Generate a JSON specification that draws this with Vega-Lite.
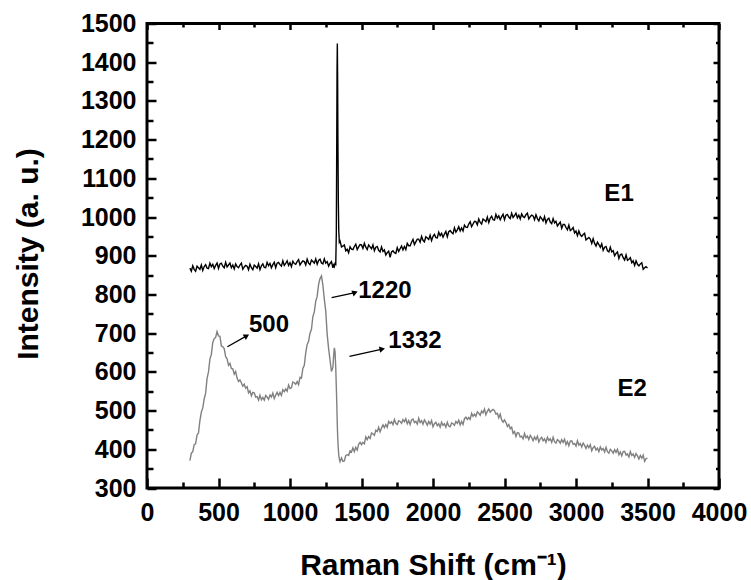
{
"$schema": "https://vega.github.io/schema/vega-lite/v6.json",
"width": 751, "height": 580,
"autosize": {"type": "fit", "contains": "padding"},
"padding": {"left": 13, "top": 11.5, "right": 4, "bottom": 0},
"background": "white",
"config": {
 "view": {"stroke": "black", "strokeWidth": 3},
 "font": "Liberation Sans",
 "axis": {"labelFont": "Liberation Sans", "labelFontWeight": "bold", "labelFontSize": 25, "labelColor": "black",
  "titleFont": "Liberation Sans", "titleFontWeight": "bold", "titleFontSize": 30, "titleColor": "black",
  "domain": false, "grid": false, "tickColor": "black", "tickWidth": 2.5, "tickOpacity": 1}
},
"datasets": {
 "spec": [
  {"x":300,"E1":868,"E2":371},{"x":310,"E1":860,"E2":390},{"x":320,"E1":874,"E2":394},{"x":330,"E1":865,"E2":412},{"x":340,"E1":860,"E2":414},
  {"x":350,"E1":873,"E2":437},{"x":360,"E1":869,"E2":442},{"x":370,"E1":865,"E2":474},{"x":380,"E1":876,"E2":496},{"x":390,"E1":862,"E2":507},
  {"x":400,"E1":872,"E2":530},{"x":410,"E1":877,"E2":545},{"x":420,"E1":868,"E2":583},{"x":430,"E1":867,"E2":600},{"x":440,"E1":881,"E2":633},
  {"x":450,"E1":872,"E2":645},{"x":460,"E1":878,"E2":676},{"x":470,"E1":867,"E2":686},{"x":480,"E1":875,"E2":689},{"x":490,"E1":881,"E2":704},
  {"x":500,"E1":867,"E2":693},{"x":510,"E1":879,"E2":692},{"x":520,"E1":881,"E2":667},{"x":530,"E1":873,"E2":665},{"x":540,"E1":869,"E2":660},
  {"x":550,"E1":883,"E2":639},{"x":560,"E1":871,"E2":634},{"x":570,"E1":876,"E2":617},{"x":580,"E1":881,"E2":622},{"x":590,"E1":869,"E2":609},
  {"x":600,"E1":876,"E2":608},{"x":610,"E1":866,"E2":594},{"x":620,"E1":879,"E2":601},{"x":630,"E1":872,"E2":584},{"x":640,"E1":869,"E2":575},
  {"x":650,"E1":876,"E2":579},{"x":660,"E1":881,"E2":572},{"x":670,"E1":865,"E2":563},{"x":680,"E1":871,"E2":568},{"x":690,"E1":875,"E2":558},
  {"x":700,"E1":873,"E2":562},{"x":710,"E1":864,"E2":546},{"x":720,"E1":878,"E2":551},{"x":730,"E1":869,"E2":538},{"x":740,"E1":864,"E2":547},
  {"x":750,"E1":876,"E2":546},{"x":760,"E1":872,"E2":535},{"x":770,"E1":868,"E2":536},{"x":780,"E1":879,"E2":527},{"x":790,"E1":864,"E2":540},
  {"x":800,"E1":874,"E2":528},{"x":810,"E1":879,"E2":534},{"x":820,"E1":870,"E2":527},{"x":830,"E1":869,"E2":539},{"x":840,"E1":883,"E2":535},
  {"x":850,"E1":874,"E2":529},{"x":860,"E1":880,"E2":540},{"x":870,"E1":869,"E2":535},{"x":880,"E1":877,"E2":545},{"x":890,"E1":883,"E2":531},
  {"x":900,"E1":869,"E2":540},{"x":910,"E1":881,"E2":547},{"x":920,"E1":883,"E2":539},{"x":930,"E1":877,"E2":547},{"x":940,"E1":873,"E2":539},
  {"x":950,"E1":887,"E2":554},{"x":960,"E1":875,"E2":549},{"x":970,"E1":880,"E2":556},{"x":980,"E1":887,"E2":550},{"x":990,"E1":875,"E2":566},
  {"x":1000,"E1":882,"E2":557},{"x":1010,"E1":872,"E2":559},{"x":1020,"E1":886,"E2":574},{"x":1030,"E1":880,"E2":572},{"x":1040,"E1":878,"E2":568},
  {"x":1050,"E1":885,"E2":575},{"x":1060,"E1":890,"E2":567},{"x":1070,"E1":876,"E2":586},{"x":1080,"E1":882,"E2":584},{"x":1090,"E1":887,"E2":609},
  {"x":1100,"E1":885,"E2":617},{"x":1110,"E1":876,"E2":649},{"x":1120,"E1":891,"E2":671},{"x":1130,"E1":881,"E2":679},{"x":1140,"E1":877,"E2":700},
  {"x":1150,"E1":889,"E2":710},{"x":1160,"E1":885,"E2":743},{"x":1170,"E1":881,"E2":755},{"x":1180,"E1":892,"E2":783},{"x":1190,"E1":878,"E2":795},
  {"x":1200,"E1":888,"E2":826},{"x":1210,"E1":891,"E2":841},{"x":1220,"E1":881,"E2":848},{"x":1230,"E1":879,"E2":824},{"x":1240,"E1":892,"E2":788},
  {"x":1250,"E1":881,"E2":757},{"x":1260,"E1":885,"E2":697},{"x":1270,"E1":873,"E2":660},{"x":1280,"E1":880,"E2":630},{"x":1290,"E1":885,"E2":601},
  {"x":1300,"E1":869,"E2":612},{"x":1305,"E1":876,"E2":640},{"x":1310,"E1":872,"E2":662},{"x":1315,"E1":880,"E2":652},{"x":1320,"E1":878,"E2":610},
  {"x":1324,"E1":960,"E2":560},{"x":1327,"E1":1200,"E2":520},{"x":1329,"E1":1380,"E2":490},{"x":1331,"E1":1448,"E2":460},{"x":1333,"E1":1360,"E2":438},
  {"x":1335,"E1":1200,"E2":420},{"x":1338,"E1":1040,"E2":400},{"x":1341,"E1":965,"E2":385},{"x":1345,"E1":935,"E2":375},
  {"x":1350,"E1":938,"E2":368},{"x":1360,"E1":923,"E2":378},{"x":1370,"E1":925,"E2":369},{"x":1380,"E1":928,"E2":370},{"x":1390,"E1":913,"E2":384},
  {"x":1400,"E1":917,"E2":386},{"x":1410,"E1":908,"E2":384},{"x":1420,"E1":923,"E2":396},{"x":1430,"E1":917,"E2":393},{"x":1440,"E1":916,"E2":404},
  {"x":1450,"E1":924,"E2":394},{"x":1460,"E1":930,"E2":405},{"x":1470,"E1":916,"E2":398},{"x":1480,"E1":923,"E2":413},{"x":1490,"E1":929,"E2":418},
  {"x":1500,"E1":928,"E2":412},{"x":1510,"E1":919,"E2":418},{"x":1520,"E1":932,"E2":414},{"x":1530,"E1":922,"E2":432},{"x":1540,"E1":916,"E2":425},
  {"x":1550,"E1":928,"E2":433},{"x":1560,"E1":923,"E2":428},{"x":1570,"E1":918,"E2":442},{"x":1580,"E1":928,"E2":440},{"x":1590,"E1":913,"E2":436},
  {"x":1600,"E1":922,"E2":449},{"x":1610,"E1":924,"E2":446},{"x":1620,"E1":914,"E2":457},{"x":1630,"E1":910,"E2":445},{"x":1640,"E1":923,"E2":455},
  {"x":1650,"E1":911,"E2":463},{"x":1660,"E1":915,"E2":456},{"x":1670,"E1":902,"E2":464},{"x":1680,"E1":908,"E2":457},{"x":1690,"E1":912,"E2":472},
  {"x":1700,"E1":896,"E2":467},{"x":1710,"E1":910,"E2":471},{"x":1720,"E1":913,"E2":464},{"x":1730,"E1":908,"E2":477},{"x":1740,"E1":906,"E2":467},
  {"x":1750,"E1":921,"E2":464},{"x":1760,"E1":911,"E2":474},{"x":1770,"E1":918,"E2":472},{"x":1780,"E1":925,"E2":467},{"x":1790,"E1":915,"E2":477},
  {"x":1800,"E1":924,"E2":471},{"x":1810,"E1":916,"E2":479},{"x":1820,"E1":932,"E2":466},{"x":1830,"E1":926,"E2":474},{"x":1840,"E1":926,"E2":464},
  {"x":1850,"E1":935,"E2":476},{"x":1860,"E1":942,"E2":478},{"x":1870,"E1":929,"E2":469},{"x":1880,"E1":936,"E2":472},{"x":1890,"E1":943,"E2":465},
  {"x":1900,"E1":943,"E2":480},{"x":1910,"E1":935,"E2":469},{"x":1920,"E1":950,"E2":474},{"x":1930,"E1":940,"E2":465},{"x":1940,"E1":936,"E2":476},
  {"x":1950,"E1":949,"E2":470},{"x":1960,"E1":946,"E2":462},{"x":1970,"E1":942,"E2":472},{"x":1980,"E1":953,"E2":465},{"x":1990,"E1":939,"E2":474},
  {"x":2000,"E1":950,"E2":458},{"x":2010,"E1":955,"E2":466},{"x":2020,"E1":947,"E2":470},{"x":2030,"E1":946,"E2":461},{"x":2040,"E1":961,"E2":466},
  {"x":2050,"E1":952,"E2":457},{"x":2060,"E1":958,"E2":470},{"x":2070,"E1":948,"E2":462},{"x":2080,"E1":956,"E2":466},{"x":2090,"E1":963,"E2":457},
  {"x":2100,"E1":949,"E2":470},{"x":2110,"E1":962,"E2":460},{"x":2120,"E1":965,"E2":458},{"x":2130,"E1":960,"E2":468},{"x":2140,"E1":957,"E2":466},
  {"x":2150,"E1":972,"E2":462},{"x":2160,"E1":961,"E2":472},{"x":2170,"E1":967,"E2":467},{"x":2180,"E1":975,"E2":475},{"x":2190,"E1":964,"E2":463},
  {"x":2200,"E1":972,"E2":472},{"x":2210,"E1":964,"E2":464},{"x":2220,"E1":979,"E2":479},{"x":2230,"E1":974,"E2":483},{"x":2240,"E1":973,"E2":477},
  {"x":2250,"E1":982,"E2":482},{"x":2260,"E1":988,"E2":477},{"x":2270,"E1":975,"E2":493},{"x":2280,"E1":982,"E2":485},{"x":2290,"E1":989,"E2":491},
  {"x":2300,"E1":988,"E2":485},{"x":2310,"E1":980,"E2":497},{"x":2320,"E1":995,"E2":493},{"x":2330,"E1":986,"E2":488},{"x":2340,"E1":982,"E2":499},
  {"x":2350,"E1":995,"E2":494},{"x":2360,"E1":992,"E2":504},{"x":2370,"E1":988,"E2":489},{"x":2380,"E1":1000,"E2":498},{"x":2390,"E1":986,"E2":504},
  {"x":2400,"E1":997,"E2":496},{"x":2410,"E1":1002,"E2":500},{"x":2420,"E1":993,"E2":503},{"x":2430,"E1":992,"E2":500},{"x":2440,"E1":1007,"E2":491},
  {"x":2450,"E1":997,"E2":493},{"x":2460,"E1":1003,"E2":481},{"x":2470,"E1":993,"E2":491},{"x":2480,"E1":1001,"E2":476},{"x":2490,"E1":1007,"E2":470},
  {"x":2500,"E1":993,"E2":476},{"x":2510,"E1":1005,"E2":469},{"x":2520,"E1":1007,"E2":459},{"x":2530,"E1":1000,"E2":464},{"x":2540,"E1":996,"E2":453},
  {"x":2550,"E1":1010,"E2":457},{"x":2560,"E1":999,"E2":441},{"x":2570,"E1":1004,"E2":446},{"x":2580,"E1":1010,"E2":433},{"x":2590,"E1":998,"E2":443},
  {"x":2600,"E1":1005,"E2":442},{"x":2610,"E1":995,"E2":432},{"x":2620,"E1":1008,"E2":434},{"x":2630,"E1":1001,"E2":427},{"x":2640,"E1":999,"E2":441},
  {"x":2650,"E1":1006,"E2":430},{"x":2660,"E1":1010,"E2":434},{"x":2670,"E1":995,"E2":425},{"x":2680,"E1":1001,"E2":436},{"x":2690,"E1":1005,"E2":430},
  {"x":2700,"E1":1003,"E2":422},{"x":2710,"E1":993,"E2":432},{"x":2720,"E1":1006,"E2":425},{"x":2730,"E1":996,"E2":434},{"x":2740,"E1":990,"E2":419},
  {"x":2750,"E1":1001,"E2":427},{"x":2760,"E1":996,"E2":431},{"x":2770,"E1":990,"E2":422},{"x":2780,"E1":1001,"E2":427},{"x":2790,"E1":985,"E2":418},
  {"x":2800,"E1":994,"E2":431},{"x":2810,"E1":997,"E2":423},{"x":2820,"E1":987,"E2":427},{"x":2830,"E1":983,"E2":418},{"x":2840,"E1":996,"E2":431},
  {"x":2850,"E1":985,"E2":419},{"x":2860,"E1":989,"E2":416},{"x":2870,"E1":977,"E2":425},{"x":2880,"E1":982,"E2":422},{"x":2890,"E1":987,"E2":416},
  {"x":2900,"E1":971,"E2":425},{"x":2910,"E1":981,"E2":418},{"x":2920,"E1":981,"E2":426},{"x":2930,"E1":973,"E2":412},{"x":2940,"E1":967,"E2":420},
  {"x":2950,"E1":979,"E2":409},{"x":2960,"E1":965,"E2":421},{"x":2970,"E1":968,"E2":422},{"x":2980,"E1":973,"E2":413},{"x":2990,"E1":959,"E2":415},
  {"x":3000,"E1":964,"E2":408},{"x":3010,"E1":952,"E2":422},{"x":3020,"E1":964,"E2":411},{"x":3030,"E1":954,"E2":415},{"x":3040,"E1":950,"E2":406},
  {"x":3050,"E1":955,"E2":416},{"x":3060,"E1":958,"E2":410},{"x":3070,"E1":941,"E2":402},{"x":3080,"E1":944,"E2":411},{"x":3090,"E1":947,"E2":404},
  {"x":3100,"E1":943,"E2":412},{"x":3110,"E1":932,"E2":396},{"x":3120,"E1":944,"E2":404},{"x":3130,"E1":932,"E2":408},{"x":3140,"E1":925,"E2":398},
  {"x":3150,"E1":935,"E2":403},{"x":3160,"E1":929,"E2":394},{"x":3170,"E1":922,"E2":406},{"x":3180,"E1":931,"E2":398},{"x":3190,"E1":914,"E2":402},
  {"x":3200,"E1":922,"E2":393},{"x":3210,"E1":924,"E2":405},{"x":3220,"E1":913,"E2":394},{"x":3230,"E1":910,"E2":390},{"x":3240,"E1":922,"E2":400},
  {"x":3250,"E1":910,"E2":396},{"x":3260,"E1":913,"E2":390},{"x":3270,"E1":900,"E2":399},{"x":3280,"E1":906,"E2":392},{"x":3290,"E1":910,"E2":400},
  {"x":3300,"E1":893,"E2":386},{"x":3310,"E1":903,"E2":393},{"x":3320,"E1":904,"E2":383},{"x":3330,"E1":895,"E2":394},{"x":3340,"E1":889,"E2":395},
  {"x":3350,"E1":902,"E2":385},{"x":3360,"E1":888,"E2":388},{"x":3370,"E1":891,"E2":380},{"x":3380,"E1":895,"E2":394},{"x":3390,"E1":882,"E2":384},
  {"x":3400,"E1":887,"E2":388},{"x":3410,"E1":875,"E2":379},{"x":3420,"E1":887,"E2":389},{"x":3430,"E1":878,"E2":383},{"x":3440,"E1":874,"E2":375},
  {"x":3450,"E1":879,"E2":384},{"x":3460,"E1":882,"E2":377},{"x":3470,"E1":865,"E2":385},{"x":3480,"E1":869,"E2":369},{"x":3490,"E1":872,"E2":376},
  {"x":3500,"E1":868,"E2":377}
 ],
 "labels": [
  {"label":"E1","x":3301,"y":1059},{"label":"E2","x":3392,"y":555},
  {"label":"500","x":853,"y":721},{"label":"1220","x":1664,"y":808},{"label":"1332","x":1874,"y":679}
 ],
 "arrows": [
  {"label":"500","x":562,"y":665,"x2":697,"y2":693},
  {"label":"1220","x":1291,"y":792,"x2":1455,"y2":805},
  {"label":"1332","x":1416,"y":640,"x2":1645,"y2":659}
 ]
},
"resolve": {"axis": {"x": "independent", "y": "independent"}},
"layer": [
 {
  "data": {"name": "spec"},
  "mark": {"type": "line", "color": "black", "strokeWidth": 1.4},
  "encoding": {
   "x": {"field": "x", "type": "quantitative", "scale": {"domain": [0, 4000], "nice": false},
    "axis": {"orient": "bottom", "values": [0,500,1000,1500,2000,2500,3000,3500,4000], "ticks": false, "labelPadding": 12,
     "labelFlush": false, "format": "d", "zindex": 1,
     "title": "Raman Shift (cm⁻¹)", "titleY": 86, "titleBaseline": "alphabetic"}},
   "y": {"field": "E1", "type": "quantitative", "scale": {"domain": [300, 1500], "nice": false},
    "axis": {"orient": "left", "values": [300,400,500,600,700,800,900,1000,1100,1200,1300,1400,1500], "ticks": false, "labelPadding": 11,
     "format": "d", "zindex": 1,
     "title": "Intensity (a. u.)", "titleX": -119, "titleY": 230, "titleBaseline": "middle"}}
  }
 },
 {
  "data": {"name": "spec"},
  "mark": {"type": "line", "color": "#808080", "strokeWidth": 1.4},
  "encoding": {
   "x": {"field": "x", "type": "quantitative", "scale": {"domain": [0, 4000], "nice": false},
    "axis": {"orient": "bottom", "values": [0,500,1000,1500,2000,2500,3000,3500,4000], "labels": false, "ticks": true, "zindex": 1,
     "tickSize": -10, "tickColor": "black", "tickWidth": 2.5, "title": null}},
   "y": {"field": "E2", "type": "quantitative", "scale": {"domain": [300, 1500], "nice": false},
    "axis": {"orient": "left", "values": [300,400,500,600,700,800,900,1000,1100,1200,1300,1400,1500], "labels": false, "ticks": true, "zindex": 1,
     "tickSize": -9, "tickColor": "black", "tickWidth": 2.5, "title": null}}
  }
 },
 {
  "data": {"name": "arrows"},
  "mark": {"type": "rule", "color": "black", "strokeWidth": 1.3},
  "encoding": {
   "x": {"field": "x", "type": "quantitative",
    "axis": {"orient": "bottom", "values": [250,750,1250,1750,2250,2750,3250,3750], "labels": false, "ticks": true, "zindex": 1,
     "tickSize": -6, "tickColor": "black", "tickWidth": 2.5, "title": null}},
   "y": {"field": "y", "type": "quantitative",
    "axis": {"orient": "left", "values": [350,450,550,650,750,850,950,1050,1150,1250,1350,1450], "labels": false, "ticks": true, "zindex": 1,
     "tickSize": -6, "tickColor": "black", "tickWidth": 2.5, "title": null}},
   "x2": {"field": "x2"},
   "y2": {"field": "y2"}
  }
 },
 {
  "data": {"name": "arrows"},
  "mark": {"type": "point", "shape": "triangle-up", "filled": true, "color": "black", "opacity": 1, "size": 40},
  "encoding": {
   "x": {"field": "x2", "type": "quantitative",
    "axis": {"orient": "top", "values": [0,500,1000,1500,2000,2500,3000,3500,4000], "labels": false, "ticks": true, "zindex": 1,
     "tickSize": -6, "tickColor": "black", "tickWidth": 2.5, "title": null}},
   "y": {"field": "y2", "type": "quantitative",
    "axis": {"orient": "right", "values": [300,400,500,600,700,800,900,1000,1100,1200,1300,1400,1500], "labels": false, "ticks": true, "zindex": 1,
     "tickSize": -6, "tickColor": "black", "tickWidth": 2.5, "title": null}},
   "angle": {"field": "label", "type": "nominal", "scale": {"domain": ["500","1220","1332"], "range": [60,78,77]}, "legend": null}
  }
 },
 {
  "data": {"name": "labels"},
  "mark": {"type": "text", "font": "Liberation Sans", "fontWeight": "bold", "fontSize": 24, "color": "black", "align": "center", "baseline": "middle"},
  "encoding": {
   "x": {"field": "x", "type": "quantitative",
    "axis": {"orient": "top", "values": [250,750,1250,1750,2250,2750,3250,3750], "labels": false, "ticks": true, "zindex": 1,
     "tickSize": -3.5, "tickColor": "black", "tickWidth": 2.5, "title": null}},
   "y": {"field": "y", "type": "quantitative",
    "axis": {"orient": "right", "values": [350,450,550,650,750,850,950,1050,1150,1250,1350,1450], "labels": false, "ticks": true, "zindex": 1,
     "tickSize": -3.5, "tickColor": "black", "tickWidth": 2.5, "title": null}},
   "text": {"field": "label"}
  }
 }
]
}
